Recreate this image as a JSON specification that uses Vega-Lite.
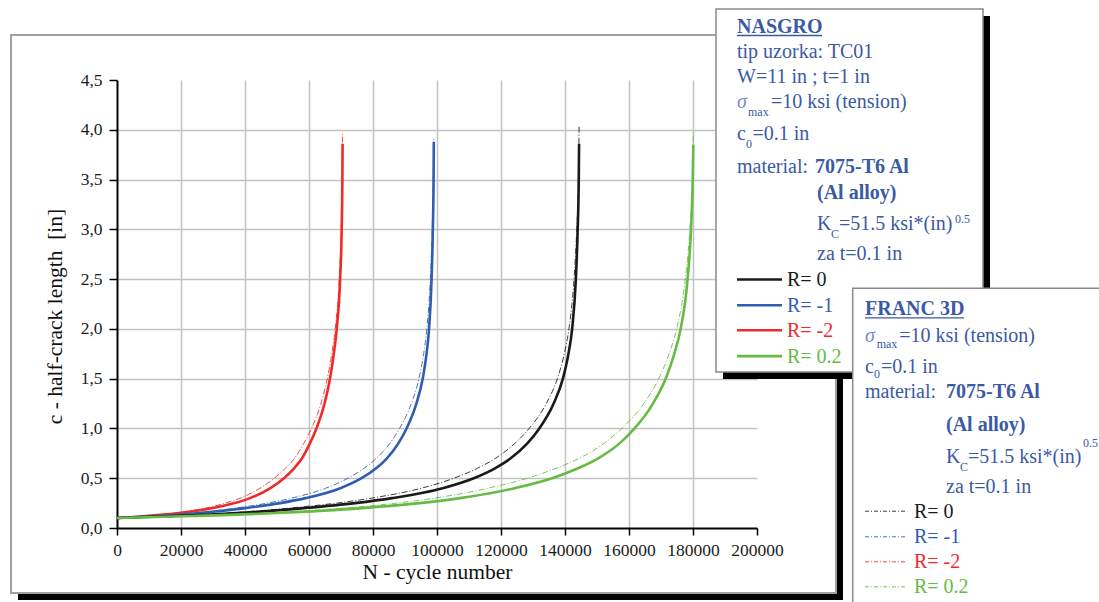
{
  "$schema": "https://vega.github.io/schema/vega-lite/v6.json",
  "width": 640,
  "height": 448,
  "autosize": {"type": "none"},
  "padding": {"left": 117, "top": 80, "right": 342, "bottom": 74},
  "background": "white",
  "config": {"view": {"stroke": null}, "font": "Liberation Serif"},
  "datasets": {
    "boxes": [
      {"k": "shadow", "x": -30937.5, "x2": 226875, "y": -0.6529, "y2": -0.7232},
      {"k": "shadow", "x": 224687.5, "x2": 226875, "y": 4.8817, "y2": -0.7232},
      {"k": "frame", "x": -33125, "x2": 224687.5, "y": 4.952, "y2": -0.6529},
      {"k": "nshadow", "x": 189375, "x2": 272812.5, "y": 5.1429, "y2": 1.4967},
      {"k": "nbox", "x": 187187.5, "x2": 270625, "y": 5.2132, "y2": 1.567},
      {"k": "fbox", "x": 229906, "x2": 310312.5, "y": 2.4077, "y2": -0.874}
    ],
    "rules": [
      {"k": "underline", "box": "NASGRO", "x": 193750, "x2": 220312.5, "y": 4.947},
      {"k": "underline", "box": "FRANC 3D", "x": 233750, "x2": 264687.5, "y": 2.1114},
      {"k": "key", "box": "NASGRO", "R": "0", "x": 193750, "x2": 207812.5, "y": 2.496},
      {"k": "key", "box": "NASGRO", "R": "-1", "x": 193750, "x2": 207812.5, "y": 2.238},
      {"k": "key", "box": "NASGRO", "R": "-2", "x": 193750, "x2": 207812.5, "y": 1.987},
      {"k": "key", "box": "NASGRO", "R": "0.2", "x": 193750, "x2": 207812.5, "y": 1.726},
      {"k": "key", "box": "FRANC 3D", "R": "0", "x": 233750, "x2": 246875, "y": 0.1688},
      {"k": "key", "box": "FRANC 3D", "R": "-1", "x": 233750, "x2": 246875, "y": -0.0884},
      {"k": "key", "box": "FRANC 3D", "R": "-2", "x": 233750, "x2": 246875, "y": -0.3395},
      {"k": "key", "box": "FRANC 3D", "R": "0.2", "x": 233750, "x2": 246875, "y": -0.5906}
    ],
    "notes": [
      {"role": "title", "t": "NASGRO", "x": 193750, "y": 4.969},
      {"role": "body", "t": "tip uzorka: TC01", "x": 193750, "y": 4.718},
      {"role": "body", "t": "W=11 in ; t=1 in", "x": 193750, "y": 4.467},
      {"role": "sigma", "t": "σ", "x": 193750, "y": 4.216},
      {"role": "small", "t": "max", "x": 197187.5, "y": 4.138},
      {"role": "body", "t": "=10 ksi (tension)", "x": 204375, "y": 4.216},
      {"role": "body", "t": "c", "x": 193750, "y": 3.897},
      {"role": "small", "t": "0", "x": 196562.5, "y": 3.817},
      {"role": "body", "t": "=0.1 in", "x": 198593.75, "y": 3.897},
      {"role": "body", "t": "material:", "x": 193750, "y": 3.569},
      {"role": "bold", "t": "7075-T6 Al", "x": 218125, "y": 3.569},
      {"role": "bold", "t": "(Al alloy)", "x": 218750, "y": 3.302},
      {"role": "body", "t": "K", "x": 218750, "y": 2.993},
      {"role": "small", "t": "C", "x": 223125, "y": 2.913},
      {"role": "body", "t": "=51.5 ksi*(in)", "x": 225625, "y": 2.993},
      {"role": "small", "t": "0.5", "x": 261875, "y": 3.064},
      {"role": "body", "t": "za t=0.1 in", "x": 218750, "y": 2.692},
      {"role": "legend", "R": "0", "t": "R= 0", "x": 209375, "y": 2.431},
      {"role": "legend", "R": "-1", "t": "R= -1", "x": 209375, "y": 2.173},
      {"role": "legend", "R": "-2", "t": "R= -2", "x": 209375, "y": 1.922},
      {"role": "legend", "R": "0.2", "t": "R= 0.2", "x": 209375, "y": 1.66},
      {"role": "title", "t": "FRANC 3D", "x": 233750, "y": 2.1395},
      {"role": "sigma", "t": "σ", "x": 233750, "y": 1.8713},
      {"role": "small", "t": "max", "x": 237406, "y": 1.805},
      {"role": "body", "t": "=10 ksi (tension)", "x": 244469, "y": 1.8713},
      {"role": "body", "t": "c", "x": 233750, "y": 1.56},
      {"role": "small", "t": "0", "x": 236562.5, "y": 1.5067},
      {"role": "body", "t": "=0.1 in", "x": 238750, "y": 1.56},
      {"role": "body", "t": "material:", "x": 233750, "y": 1.3089},
      {"role": "bold", "t": "7075-T6 Al", "x": 259062.5, "y": 1.3089},
      {"role": "bold", "t": "(Al alloy)", "x": 259062.5, "y": 0.9743},
      {"role": "body", "t": "K", "x": 259062.5, "y": 0.6499},
      {"role": "small", "t": "C", "x": 263437.5, "y": 0.5756},
      {"role": "body", "t": "=51.5 ksi*(in)", "x": 265937.5, "y": 0.6499},
      {"role": "small", "t": "0.5", "x": 301875, "y": 0.8106},
      {"role": "body", "t": "za t=0.1 in", "x": 259062.5, "y": 0.3485},
      {"role": "legend", "R": "0", "t": "R= 0", "x": 249062.5, "y": 0.1035},
      {"role": "legend", "R": "-1", "t": "R= -1", "x": 249062.5, "y": -0.1537},
      {"role": "legend", "R": "-2", "t": "R= -2", "x": 249062.5, "y": -0.4048},
      {"role": "legend", "R": "0.2", "t": "R= 0.2", "x": 249062.5, "y": -0.6559}
    ],
    "curves": [
      {"m": "NASGRO", "R": "-2", "N": 0, "c": 0.1},
      {"m": "NASGRO", "R": "-2", "N": 9165, "c": 0.12},
      {"m": "NASGRO", "R": "-2", "N": 19388, "c": 0.15},
      {"m": "NASGRO", "R": "-2", "N": 29963, "c": 0.2},
      {"m": "NASGRO", "R": "-2", "N": 36660, "c": 0.25},
      {"m": "NASGRO", "R": "-2", "N": 41595, "c": 0.3},
      {"m": "NASGRO", "R": "-2", "N": 47940, "c": 0.4},
      {"m": "NASGRO", "R": "-2", "N": 52170, "c": 0.5},
      {"m": "NASGRO", "R": "-2", "N": 55343, "c": 0.6},
      {"m": "NASGRO", "R": "-2", "N": 57810, "c": 0.7},
      {"m": "NASGRO", "R": "-2", "N": 60278, "c": 0.85},
      {"m": "NASGRO", "R": "-2", "N": 62322, "c": 1.0},
      {"m": "NASGRO", "R": "-2", "N": 64860, "c": 1.25},
      {"m": "NASGRO", "R": "-2", "N": 66552, "c": 1.5},
      {"m": "NASGRO", "R": "-2", "N": 67751, "c": 1.75},
      {"m": "NASGRO", "R": "-2", "N": 68667, "c": 2.0},
      {"m": "NASGRO", "R": "-2", "N": 69725, "c": 2.5},
      {"m": "NASGRO", "R": "-2", "N": 70218, "c": 3.0},
      {"m": "NASGRO", "R": "-2", "N": 70430, "c": 3.5},
      {"m": "NASGRO", "R": "-2", "N": 70500, "c": 3.86},
      {"m": "NASGRO", "R": "-1", "N": 0, "c": 0.1},
      {"m": "NASGRO", "R": "-1", "N": 12375, "c": 0.12},
      {"m": "NASGRO", "R": "-1", "N": 25740, "c": 0.15},
      {"m": "NASGRO", "R": "-1", "N": 40095, "c": 0.2},
      {"m": "NASGRO", "R": "-1", "N": 50985, "c": 0.25},
      {"m": "NASGRO", "R": "-1", "N": 58905, "c": 0.3},
      {"m": "NASGRO", "R": "-1", "N": 69795, "c": 0.4},
      {"m": "NASGRO", "R": "-1", "N": 76428, "c": 0.5},
      {"m": "NASGRO", "R": "-1", "N": 80982, "c": 0.6},
      {"m": "NASGRO", "R": "-1", "N": 84348, "c": 0.7},
      {"m": "NASGRO", "R": "-1", "N": 87912, "c": 0.85},
      {"m": "NASGRO", "R": "-1", "N": 90486, "c": 1.0},
      {"m": "NASGRO", "R": "-1", "N": 93555, "c": 1.25},
      {"m": "NASGRO", "R": "-1", "N": 95535, "c": 1.5},
      {"m": "NASGRO", "R": "-1", "N": 96723, "c": 1.75},
      {"m": "NASGRO", "R": "-1", "N": 97515, "c": 2.0},
      {"m": "NASGRO", "R": "-1", "N": 98307, "c": 2.5},
      {"m": "NASGRO", "R": "-1", "N": 98703, "c": 3.0},
      {"m": "NASGRO", "R": "-1", "N": 98931, "c": 3.5},
      {"m": "NASGRO", "R": "-1", "N": 99000, "c": 3.88},
      {"m": "NASGRO", "R": "0", "N": 0, "c": 0.1},
      {"m": "NASGRO", "R": "0", "N": 18050, "c": 0.12},
      {"m": "NASGRO", "R": "0", "N": 37544, "c": 0.15},
      {"m": "NASGRO", "R": "0", "N": 58482, "c": 0.2},
      {"m": "NASGRO", "R": "0", "N": 74366, "c": 0.25},
      {"m": "NASGRO", "R": "0", "N": 85918, "c": 0.3},
      {"m": "NASGRO", "R": "0", "N": 101802, "c": 0.4},
      {"m": "NASGRO", "R": "0", "N": 111477, "c": 0.5},
      {"m": "NASGRO", "R": "0", "N": 118119, "c": 0.6},
      {"m": "NASGRO", "R": "0", "N": 123029, "c": 0.7},
      {"m": "NASGRO", "R": "0", "N": 128227, "c": 0.85},
      {"m": "NASGRO", "R": "0", "N": 131982, "c": 1.0},
      {"m": "NASGRO", "R": "0", "N": 136458, "c": 1.25},
      {"m": "NASGRO", "R": "0", "N": 139346, "c": 1.5},
      {"m": "NASGRO", "R": "0", "N": 141079, "c": 1.75},
      {"m": "NASGRO", "R": "0", "N": 142234, "c": 2.0},
      {"m": "NASGRO", "R": "0", "N": 143389, "c": 2.5},
      {"m": "NASGRO", "R": "0", "N": 143967, "c": 3.0},
      {"m": "NASGRO", "R": "0", "N": 144299, "c": 3.5},
      {"m": "NASGRO", "R": "0", "N": 144400, "c": 3.86},
      {"m": "NASGRO", "R": "0.2", "N": 0, "c": 0.1},
      {"m": "NASGRO", "R": "0.2", "N": 23413, "c": 0.12},
      {"m": "NASGRO", "R": "0.2", "N": 49528, "c": 0.15},
      {"m": "NASGRO", "R": "0.2", "N": 76543, "c": 0.2},
      {"m": "NASGRO", "R": "0.2", "N": 94553, "c": 0.25},
      {"m": "NASGRO", "R": "0.2", "N": 107160, "c": 0.3},
      {"m": "NASGRO", "R": "0.2", "N": 124269, "c": 0.4},
      {"m": "NASGRO", "R": "0.2", "N": 135976, "c": 0.5},
      {"m": "NASGRO", "R": "0.2", "N": 144080, "c": 0.6},
      {"m": "NASGRO", "R": "0.2", "N": 150384, "c": 0.7},
      {"m": "NASGRO", "R": "0.2", "N": 157047, "c": 0.85},
      {"m": "NASGRO", "R": "0.2", "N": 161730, "c": 1.0},
      {"m": "NASGRO", "R": "0.2", "N": 167493, "c": 1.25},
      {"m": "NASGRO", "R": "0.2", "N": 171455, "c": 1.5},
      {"m": "NASGRO", "R": "0.2", "N": 174157, "c": 1.75},
      {"m": "NASGRO", "R": "0.2", "N": 176138, "c": 2.0},
      {"m": "NASGRO", "R": "0.2", "N": 178299, "c": 2.5},
      {"m": "NASGRO", "R": "0.2", "N": 179380, "c": 3.0},
      {"m": "NASGRO", "R": "0.2", "N": 179920, "c": 3.5},
      {"m": "NASGRO", "R": "0.2", "N": 180100, "c": 3.85},
      {"m": "FRANC 3D", "R": "-2", "N": 0, "c": 0.1},
      {"m": "FRANC 3D", "R": "-2", "N": 8601, "c": 0.12},
      {"m": "FRANC 3D", "R": "-2", "N": 17978, "c": 0.15},
      {"m": "FRANC 3D", "R": "-2", "N": 27707, "c": 0.2},
      {"m": "FRANC 3D", "R": "-2", "N": 33840, "c": 0.25},
      {"m": "FRANC 3D", "R": "-2", "N": 38493, "c": 0.3},
      {"m": "FRANC 3D", "R": "-2", "N": 44697, "c": 0.4},
      {"m": "FRANC 3D", "R": "-2", "N": 49139, "c": 0.5},
      {"m": "FRANC 3D", "R": "-2", "N": 52664, "c": 0.6},
      {"m": "FRANC 3D", "R": "-2", "N": 55484, "c": 0.7},
      {"m": "FRANC 3D", "R": "-2", "N": 58374, "c": 0.85},
      {"m": "FRANC 3D", "R": "-2", "N": 60771, "c": 1.0},
      {"m": "FRANC 3D", "R": "-2", "N": 63732, "c": 1.25},
      {"m": "FRANC 3D", "R": "-2", "N": 65706, "c": 1.5},
      {"m": "FRANC 3D", "R": "-2", "N": 67116, "c": 1.75},
      {"m": "FRANC 3D", "R": "-2", "N": 68174, "c": 2.0},
      {"m": "FRANC 3D", "R": "-2", "N": 69443, "c": 2.5},
      {"m": "FRANC 3D", "R": "-2", "N": 70077, "c": 3.0},
      {"m": "FRANC 3D", "R": "-2", "N": 70380, "c": 3.5},
      {"m": "FRANC 3D", "R": "-2", "N": 70500, "c": 3.98},
      {"m": "FRANC 3D", "R": "-1", "N": 0, "c": 0.1},
      {"m": "FRANC 3D", "R": "-1", "N": 11583, "c": 0.12},
      {"m": "FRANC 3D", "R": "-1", "N": 23760, "c": 0.15},
      {"m": "FRANC 3D", "R": "-1", "N": 36927, "c": 0.2},
      {"m": "FRANC 3D", "R": "-1", "N": 47025, "c": 0.25},
      {"m": "FRANC 3D", "R": "-1", "N": 54549, "c": 0.3},
      {"m": "FRANC 3D", "R": "-1", "N": 65241, "c": 0.4},
      {"m": "FRANC 3D", "R": "-1", "N": 72171, "c": 0.5},
      {"m": "FRANC 3D", "R": "-1", "N": 77220, "c": 0.6},
      {"m": "FRANC 3D", "R": "-1", "N": 81081, "c": 0.7},
      {"m": "FRANC 3D", "R": "-1", "N": 85239, "c": 0.85},
      {"m": "FRANC 3D", "R": "-1", "N": 88308, "c": 1.0},
      {"m": "FRANC 3D", "R": "-1", "N": 91971, "c": 1.25},
      {"m": "FRANC 3D", "R": "-1", "N": 94347, "c": 1.5},
      {"m": "FRANC 3D", "R": "-1", "N": 95832, "c": 1.75},
      {"m": "FRANC 3D", "R": "-1", "N": 96822, "c": 2.0},
      {"m": "FRANC 3D", "R": "-1", "N": 97911, "c": 2.5},
      {"m": "FRANC 3D", "R": "-1", "N": 98505, "c": 3.0},
      {"m": "FRANC 3D", "R": "-1", "N": 98861, "c": 3.5},
      {"m": "FRANC 3D", "R": "-1", "N": 99000, "c": 3.92},
      {"m": "FRANC 3D", "R": "0", "N": 0, "c": 0.1},
      {"m": "FRANC 3D", "R": "0", "N": 16895, "c": 0.12},
      {"m": "FRANC 3D", "R": "0", "N": 34656, "c": 0.15},
      {"m": "FRANC 3D", "R": "0", "N": 53861, "c": 0.2},
      {"m": "FRANC 3D", "R": "0", "N": 68590, "c": 0.25},
      {"m": "FRANC 3D", "R": "0", "N": 79564, "c": 0.3},
      {"m": "FRANC 3D", "R": "0", "N": 95160, "c": 0.4},
      {"m": "FRANC 3D", "R": "0", "N": 105268, "c": 0.5},
      {"m": "FRANC 3D", "R": "0", "N": 112632, "c": 0.6},
      {"m": "FRANC 3D", "R": "0", "N": 118264, "c": 0.7},
      {"m": "FRANC 3D", "R": "0", "N": 124328, "c": 0.85},
      {"m": "FRANC 3D", "R": "0", "N": 128805, "c": 1.0},
      {"m": "FRANC 3D", "R": "0", "N": 134148, "c": 1.25},
      {"m": "FRANC 3D", "R": "0", "N": 137613, "c": 1.5},
      {"m": "FRANC 3D", "R": "0", "N": 139779, "c": 1.75},
      {"m": "FRANC 3D", "R": "0", "N": 141223, "c": 2.0},
      {"m": "FRANC 3D", "R": "0", "N": 142812, "c": 2.5},
      {"m": "FRANC 3D", "R": "0", "N": 143678, "c": 3.0},
      {"m": "FRANC 3D", "R": "0", "N": 144198, "c": 3.5},
      {"m": "FRANC 3D", "R": "0", "N": 144400, "c": 4.03},
      {"m": "FRANC 3D", "R": "0.2", "N": 0, "c": 0.1},
      {"m": "FRANC 3D", "R": "0.2", "N": 21972, "c": 0.12},
      {"m": "FRANC 3D", "R": "0.2", "N": 45926, "c": 0.15},
      {"m": "FRANC 3D", "R": "0.2", "N": 70779, "c": 0.2},
      {"m": "FRANC 3D", "R": "0.2", "N": 87349, "c": 0.25},
      {"m": "FRANC 3D", "R": "0.2", "N": 99235, "c": 0.3},
      {"m": "FRANC 3D", "R": "0.2", "N": 115984, "c": 0.4},
      {"m": "FRANC 3D", "R": "0.2", "N": 128231, "c": 0.5},
      {"m": "FRANC 3D", "R": "0.2", "N": 137236, "c": 0.6},
      {"m": "FRANC 3D", "R": "0.2", "N": 144440, "c": 0.7},
      {"m": "FRANC 3D", "R": "0.2", "N": 152185, "c": 0.85},
      {"m": "FRANC 3D", "R": "0.2", "N": 157768, "c": 1.0},
      {"m": "FRANC 3D", "R": "0.2", "N": 164611, "c": 1.25},
      {"m": "FRANC 3D", "R": "0.2", "N": 169294, "c": 1.5},
      {"m": "FRANC 3D", "R": "0.2", "N": 172536, "c": 1.75},
      {"m": "FRANC 3D", "R": "0.2", "N": 174877, "c": 2.0},
      {"m": "FRANC 3D", "R": "0.2", "N": 177579, "c": 2.5},
      {"m": "FRANC 3D", "R": "0.2", "N": 179019, "c": 3.0},
      {"m": "FRANC 3D", "R": "0.2", "N": 179794, "c": 3.5},
      {"m": "FRANC 3D", "R": "0.2", "N": 180100, "c": 3.98}
    ]
  },
  "layer": [
    {
      "data": {"name": "boxes"},
      "transform": [{"filter": "datum.k === 'shadow'"}],
      "mark": {"type": "rect", "fill": "#000000", "stroke": null},
      "encoding": {
        "x": {
          "field": "x", "type": "quantitative",
          "scale": {"domain": [0, 200000], "nice": false, "zero": false},
          "axis": {
            "title": "N - cycle number",
            "values": [0, 10000, 20000, 30000, 40000, 50000, 60000, 70000, 80000, 90000, 100000, 110000, 120000, 130000, 140000, 150000, 160000, 170000, 180000, 190000, 200000],
            "labelExpr": "datum.value % 20000 === 0 ? format(datum.value, 'd') : ''",
            "tickSize": {"condition": {"test": "datum.value % 20000 === 0", "value": 7}, "value": 5},
            "tickWidth": 1.5,
            "tickColor": "#000000",
            "domainColor": "#000000",
            "domainWidth": 2,
            "grid": true,
            "gridColor": {"condition": {"test": "datum.value % 20000 === 0", "value": "#c2c2c2"}, "value": "#ededed"},
            "gridOpacity": {"condition": {"test": "datum.value >= 200000 || datum.value === 0", "value": 0}, "value": 1},
            "gridWidth": {"condition": {"test": "datum.value % 20000 === 0", "value": 1.5}, "value": 1},
            "labelFont": "Liberation Serif",
            "labelFontSize": 17.5,
            "labelColor": "#1a1a1a",
            "labelPadding": 6,
            "labelFlush": false,
            "labelOverlap": false,
            "titleFont": "Liberation Serif",
            "titleFontSize": 21.5,
            "titleFontWeight": "normal",
            "titleColor": "#111111",
            "titlePadding": 3
          }
        },
        "x2": {"field": "x2"},
        "y": {
          "field": "y", "type": "quantitative",
          "scale": {"domain": [0, 4.5], "nice": false, "zero": false},
          "axis": {
            "title": "c - half-crack length\u00a0 [in]",
            "values": [0, 0.25, 0.5, 0.75, 1, 1.25, 1.5, 1.75, 2, 2.25, 2.5, 2.75, 3, 3.25, 3.5, 3.75, 4, 4.25, 4.5],
            "labelExpr": "(datum.value * 2) % 1 === 0 ? replace(format(datum.value, '.1f'), '.', ',') : ''",
            "tickSize": {"condition": {"test": "(datum.value * 2) % 1 === 0", "value": 8}, "value": 5},
            "tickWidth": 1.5,
            "tickColor": "#000000",
            "domainColor": "#000000",
            "domainWidth": 2,
            "grid": true,
            "gridColor": {"condition": {"test": "(datum.value * 2) % 1 === 0", "value": "#c2c2c2"}, "value": "#ededed"},
            "gridOpacity": {"condition": {"test": "datum.value >= 4.5 || datum.value === 0", "value": 0}, "value": 1},
            "gridWidth": {"condition": {"test": "(datum.value * 2) % 1 === 0", "value": 1.5}, "value": 1},
            "labelFont": "Liberation Serif",
            "labelFontSize": 17.5,
            "labelColor": "#1a1a1a",
            "labelPadding": 7,
            "labelFlush": false,
            "labelOverlap": false,
            "titleFont": "Liberation Serif",
            "titleFontSize": 21.5,
            "titleFontWeight": "normal",
            "titleColor": "#111111",
            "titlePadding": 14,
            "titleY": 236
          }
        },
        "y2": {"field": "y2"}
      }
    },
    {
      "data": {"name": "boxes"},
      "transform": [{"filter": "datum.k === 'frame'"}],
      "mark": {"type": "rect", "fill": "transparent", "stroke": "#a0a0a0", "strokeWidth": 2},
      "encoding": {
        "x": {"field": "x", "type": "quantitative", "scale": {"domain": [0, 200000], "nice": false, "zero": false}},
        "x2": {"field": "x2"},
        "y": {"field": "y", "type": "quantitative", "scale": {"domain": [0, 4.5], "nice": false, "zero": false}},
        "y2": {"field": "y2"}
      }
    },
    {
      "data": {"name": "curves"},
      "transform": [{"filter": "datum.m === 'FRANC 3D'"}],
      "mark": {"type": "line", "strokeWidth": 1, "strokeDash": [6, 2, 1, 2], "opacity": 0.85, "interpolate": "monotone"},
      "encoding": {
        "x": {"field": "N", "type": "quantitative", "scale": {"domain": [0, 200000], "nice": false, "zero": false}},
        "y": {"field": "c", "type": "quantitative", "scale": {"domain": [0, 4.5], "nice": false, "zero": false}},
        "color": {"field": "R", "type": "nominal", "scale": {"domain": ["0", "-1", "-2", "0.2"], "range": ["#1a1a1a", "#2f5db0", "#ee2b2b", "#66bb44"]}, "legend": null}
      }
    },
    {
      "data": {"name": "curves"},
      "transform": [{"filter": "datum.m === 'NASGRO'"}],
      "mark": {"type": "line", "strokeWidth": 2.6, "interpolate": "monotone"},
      "encoding": {
        "x": {"field": "N", "type": "quantitative", "scale": {"domain": [0, 200000], "nice": false, "zero": false}},
        "y": {"field": "c", "type": "quantitative", "scale": {"domain": [0, 4.5], "nice": false, "zero": false}},
        "color": {"field": "R", "type": "nominal", "scale": {"domain": ["0", "-1", "-2", "0.2"], "range": ["#1a1a1a", "#2f5db0", "#ee2b2b", "#66bb44"]}, "legend": null}
      }
    },
    {
      "data": {"name": "boxes"},
      "transform": [{"filter": "datum.k === 'nshadow'"}],
      "mark": {"type": "rect", "fill": "#000000", "stroke": null},
      "encoding": {
        "x": {"field": "x", "type": "quantitative", "scale": {"domain": [0, 200000], "nice": false, "zero": false}},
        "x2": {"field": "x2"},
        "y": {"field": "y", "type": "quantitative", "scale": {"domain": [0, 4.5], "nice": false, "zero": false}},
        "y2": {"field": "y2"}
      }
    },
    {
      "data": {"name": "boxes"},
      "transform": [{"filter": "datum.k === 'nbox' || datum.k === 'fbox'"}],
      "mark": {"type": "rect", "fill": "#ffffff", "stroke": "#8a8a8a", "strokeWidth": 1.5},
      "encoding": {
        "x": {"field": "x", "type": "quantitative", "scale": {"domain": [0, 200000], "nice": false, "zero": false}},
        "x2": {"field": "x2"},
        "y": {"field": "y", "type": "quantitative", "scale": {"domain": [0, 4.5], "nice": false, "zero": false}},
        "y2": {"field": "y2"}
      }
    },
    {
      "data": {"name": "rules"},
      "transform": [{"filter": "datum.k === 'underline'"}],
      "mark": {"type": "rule", "stroke": "#3a5aa5", "strokeWidth": 1.3},
      "encoding": {
        "x": {"field": "x", "type": "quantitative", "scale": {"domain": [0, 200000], "nice": false, "zero": false}},
        "x2": {"field": "x2"},
        "y": {"field": "y", "type": "quantitative", "scale": {"domain": [0, 4.5], "nice": false, "zero": false}}
      }
    },
    {
      "data": {"name": "rules"},
      "transform": [{"filter": "datum.k === 'key' && datum.box === 'NASGRO'"}],
      "mark": {"type": "rule", "strokeWidth": 2.6},
      "encoding": {
        "x": {"field": "x", "type": "quantitative", "scale": {"domain": [0, 200000], "nice": false, "zero": false}},
        "x2": {"field": "x2"},
        "y": {"field": "y", "type": "quantitative", "scale": {"domain": [0, 4.5], "nice": false, "zero": false}},
        "color": {"field": "R", "type": "nominal", "scale": {"domain": ["0", "-1", "-2", "0.2"], "range": ["#1a1a1a", "#2f5db0", "#ee2b2b", "#66bb44"]}, "legend": null}
      }
    },
    {
      "data": {"name": "rules"},
      "transform": [{"filter": "datum.k === 'key' && datum.box === 'FRANC 3D'"}],
      "mark": {"type": "rule", "strokeWidth": 1, "strokeDash": [4, 2, 1, 2], "opacity": 0.85},
      "encoding": {
        "x": {"field": "x", "type": "quantitative", "scale": {"domain": [0, 200000], "nice": false, "zero": false}},
        "x2": {"field": "x2"},
        "y": {"field": "y", "type": "quantitative", "scale": {"domain": [0, 4.5], "nice": false, "zero": false}},
        "color": {"field": "R", "type": "nominal", "scale": {"domain": ["0", "-1", "-2", "0.2"], "range": ["#1a1a1a", "#2f5db0", "#ee2b2b", "#66bb44"]}, "legend": null}
      }
    },
    {
      "data": {"name": "notes"},
      "transform": [{"filter": "datum.role === 'title'"}],
      "mark": {"type": "text", "align": "left", "baseline": "alphabetic", "font": "Liberation Serif", "fontSize": 20, "fontWeight": "bold", "color": "#3a5aa5"},
      "encoding": {
        "x": {"field": "x", "type": "quantitative", "scale": {"domain": [0, 200000], "nice": false, "zero": false}},
        "y": {"field": "y", "type": "quantitative", "scale": {"domain": [0, 4.5], "nice": false, "zero": false}},
        "text": {"field": "t"}
      }
    },
    {
      "data": {"name": "notes"},
      "transform": [{"filter": "datum.role === 'body'"}],
      "mark": {"type": "text", "align": "left", "baseline": "alphabetic", "font": "Liberation Serif", "fontSize": 20, "color": "#3a5aa5"},
      "encoding": {
        "x": {"field": "x", "type": "quantitative", "scale": {"domain": [0, 200000], "nice": false, "zero": false}},
        "y": {"field": "y", "type": "quantitative", "scale": {"domain": [0, 4.5], "nice": false, "zero": false}},
        "text": {"field": "t"}
      }
    },
    {
      "data": {"name": "notes"},
      "transform": [{"filter": "datum.role === 'bold'"}],
      "mark": {"type": "text", "align": "left", "baseline": "alphabetic", "font": "Liberation Serif", "fontSize": 20, "fontWeight": "bold", "color": "#3a5aa5"},
      "encoding": {
        "x": {"field": "x", "type": "quantitative", "scale": {"domain": [0, 200000], "nice": false, "zero": false}},
        "y": {"field": "y", "type": "quantitative", "scale": {"domain": [0, 4.5], "nice": false, "zero": false}},
        "text": {"field": "t"}
      }
    },
    {
      "data": {"name": "notes"},
      "transform": [{"filter": "datum.role === 'sigma'"}],
      "mark": {"type": "text", "align": "left", "baseline": "alphabetic", "font": "Liberation Serif", "fontSize": 20, "fontStyle": "italic", "color": "#7b8ec6"},
      "encoding": {
        "x": {"field": "x", "type": "quantitative", "scale": {"domain": [0, 200000], "nice": false, "zero": false}},
        "y": {"field": "y", "type": "quantitative", "scale": {"domain": [0, 4.5], "nice": false, "zero": false}},
        "text": {"field": "t"}
      }
    },
    {
      "data": {"name": "notes"},
      "transform": [{"filter": "datum.role === 'small'"}],
      "mark": {"type": "text", "align": "left", "baseline": "alphabetic", "font": "Liberation Serif", "fontSize": 12, "color": "#3a5aa5"},
      "encoding": {
        "x": {"field": "x", "type": "quantitative", "scale": {"domain": [0, 200000], "nice": false, "zero": false}},
        "y": {"field": "y", "type": "quantitative", "scale": {"domain": [0, 4.5], "nice": false, "zero": false}},
        "text": {"field": "t"}
      }
    },
    {
      "data": {"name": "notes"},
      "transform": [{"filter": "datum.role === 'legend'"}],
      "mark": {"type": "text", "align": "left", "baseline": "alphabetic", "font": "Liberation Serif", "fontSize": 20},
      "encoding": {
        "x": {"field": "x", "type": "quantitative", "scale": {"domain": [0, 200000], "nice": false, "zero": false}},
        "y": {"field": "y", "type": "quantitative", "scale": {"domain": [0, 4.5], "nice": false, "zero": false}},
        "text": {"field": "t"},
        "color": {"field": "R", "type": "nominal", "scale": {"domain": ["0", "-1", "-2", "0.2"], "range": ["#1a1a1a", "#2f5db0", "#ee2b2b", "#66bb44"]}, "legend": null}
      }
    }
  ]
}
